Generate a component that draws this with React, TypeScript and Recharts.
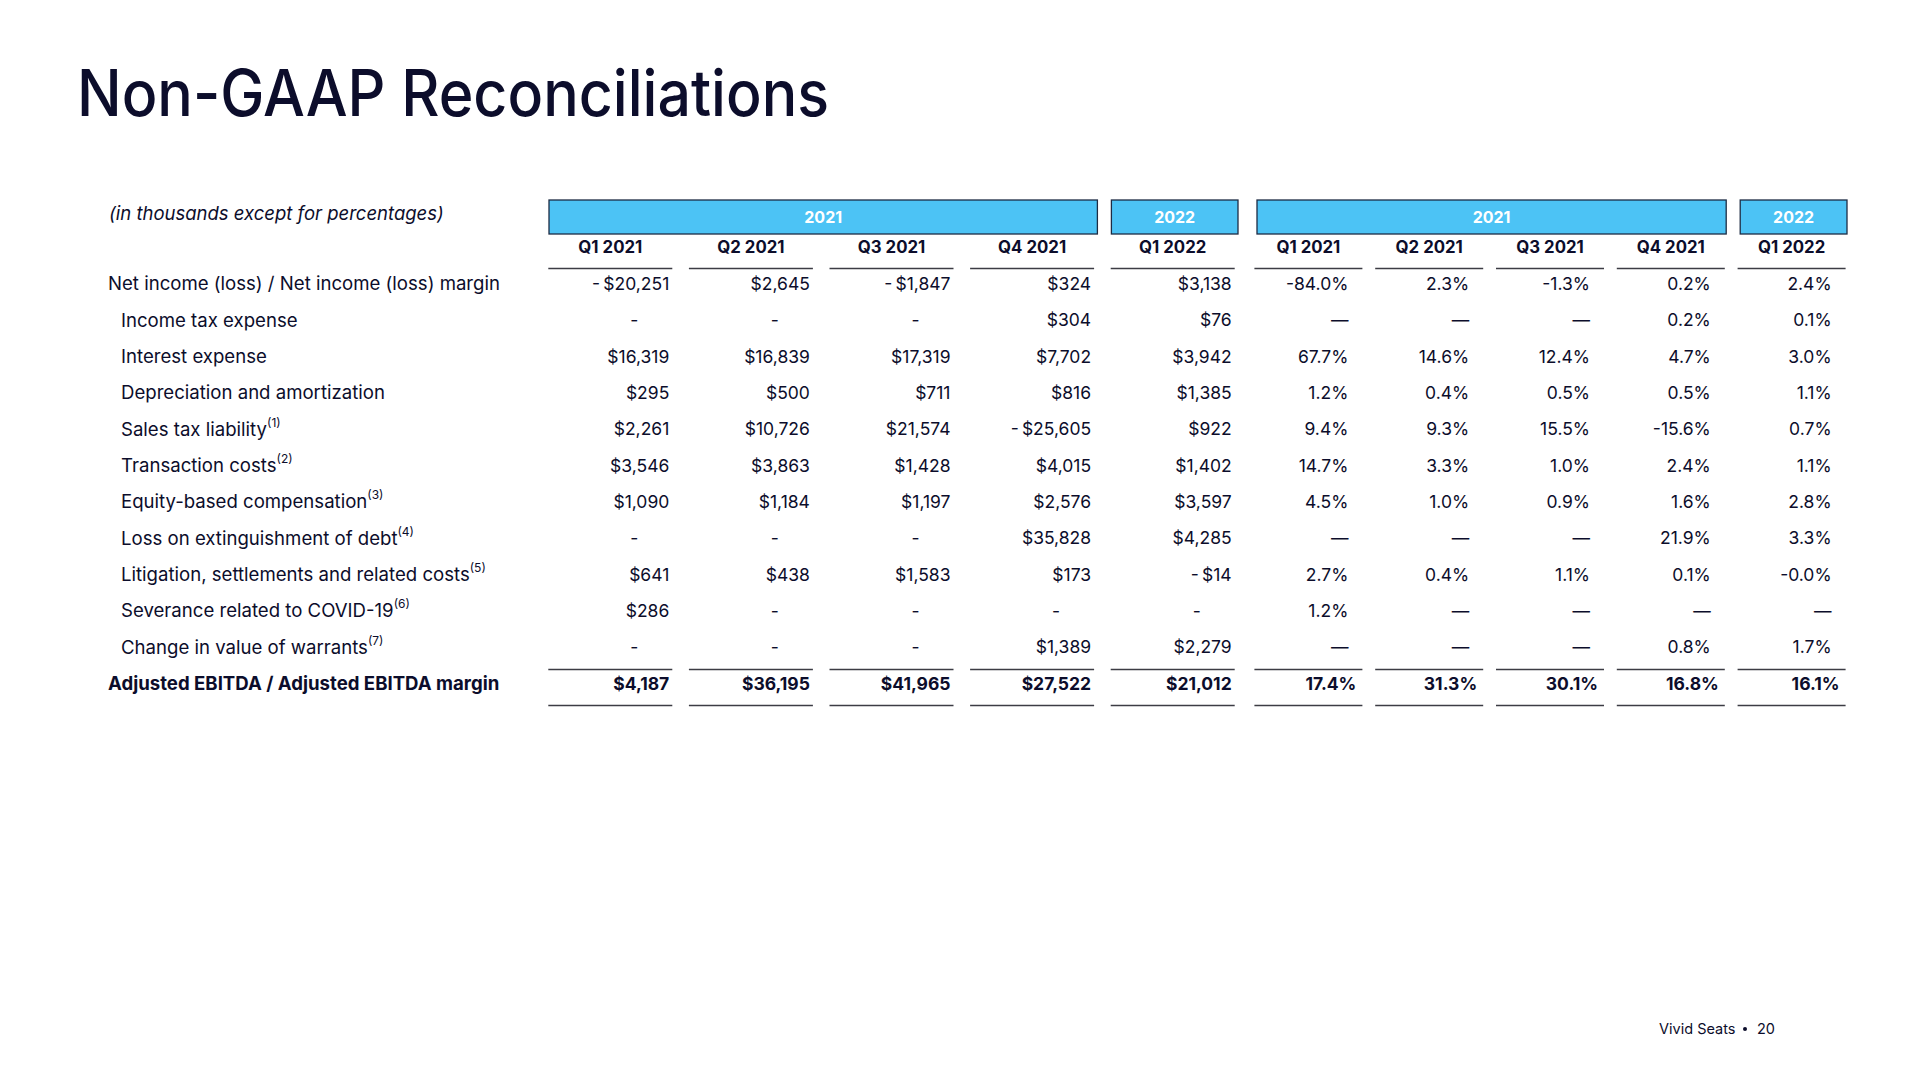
import React from 'react';
import { ComposedChart, XAxis, YAxis, Scatter, ReferenceArea } from 'recharts';

// ---------- data ----------
const TITLE = 'Non-GAAP Reconciliations';
const UNITS_NOTE = '(in thousands except for percentages)';
const FOOTER_BRAND = 'Vivid Seats';
const PAGE_NUMBER = '20';

const QUARTERS = ['Q1 2021', 'Q2 2021', 'Q3 2021', 'Q4 2021', 'Q1 2022'];
const YEAR_GROUP_LABELS = ['2021', '2022'];
const YEAR_GROUP_FIRST = [0, 4];
const YEAR_GROUP_LAST = [3, 4];

const ROW_LABELS = [
  'Net income (loss) / Net income (loss) margin',
  'Income tax expense',
  'Interest expense',
  'Depreciation and amortization',
  'Sales tax liability',
  'Transaction costs',
  'Equity-based compensation',
  'Loss on extinguishment of debt',
  'Litigation, settlements and related costs',
  'Severance related to COVID-19',
  'Change in value of warrants',
  'Adjusted EBITDA / Adjusted EBITDA margin',
];
const ROW_NOTES = ['', '', '', '', '(1)', '(2)', '(3)', '(4)', '(5)', '(6)', '(7)', ''];
const ROW_INDENTED = [false, true, true, true, true, true, true, true, true, true, true, false];

const USD_Q1_2021 = [-20251, null, 16319, 295, 2261, 3546, 1090, null, 641, 286, null, 4187];
const USD_Q2_2021 = [2645, null, 16839, 500, 10726, 3863, 1184, null, 438, null, null, 36195];
const USD_Q3_2021 = [-1847, null, 17319, 711, 21574, 1428, 1197, null, 1583, null, null, 41965];
const USD_Q4_2021 = [324, 304, 7702, 816, -25605, 4015, 2576, 35828, 173, null, 1389, 27522];
const USD_Q1_2022 = [3138, 76, 3942, 1385, 922, 1402, 3597, 4285, -14, null, 2279, 21012];

const PCT_Q1_2021 = [-84.0, null, 67.7, 1.2, 9.4, 14.7, 4.5, null, 2.7, 1.2, null, 17.4];
const PCT_Q2_2021 = [2.3, null, 14.6, 0.4, 9.3, 3.3, 1.0, null, 0.4, null, null, 31.3];
const PCT_Q3_2021 = [-1.3, null, 12.4, 0.5, 15.5, 1.0, 0.9, null, 1.1, null, null, 30.1];
const PCT_Q4_2021 = [0.2, 0.2, 4.7, 0.5, -15.6, 2.4, 1.6, 21.9, 0.1, null, 0.8, 16.8];
const PCT_Q1_2022 = [2.4, 0.1, 3.0, 1.1, 0.7, 1.1, 2.8, 3.3, -0.0, null, 1.7, 16.1];

const USD_COLUMNS = [USD_Q1_2021, USD_Q2_2021, USD_Q3_2021, USD_Q4_2021, USD_Q1_2022];
const PCT_COLUMNS = [PCT_Q1_2021, PCT_Q2_2021, PCT_Q3_2021, PCT_Q4_2021, PCT_Q1_2022];

// ---------- styles ----------
const INK = '#0c0d2b';
const RULE = '#3c3c44';
const BOX_FILL = '#4cc3f5';
const BOX_STROKE = '#1d2c44';
const FONT = 'Inter, "Open Sans", "DejaVu Sans", sans-serif';

// ---------- formatting ----------
function fmtUsd(v: number | null): string {
  if (v === null) return '-';
  const s = Math.abs(v).toLocaleString('en-US');
  return (v < 0 ? '-\u2009$' : '$') + s;
}
function fmtPct(v: number | null): string {
  if (v === null) return '\u2014';
  const neg = v < 0 || Object.is(v, -0);
  return (neg ? '-' : '') + Math.abs(v).toFixed(1) + '%';
}

type Cell = { x: number; y: number; kind: string; text: string };

function buildCells(columns: (number | null)[][], fmt: (v: number | null) => string): Cell[] {
  const out: Cell[] = [];
  columns.forEach((col, c) => {
    out.push({ x: c, y: 1, kind: 'head', text: QUARTERS[c] });
    col.forEach((v, r) => {
      const kind = r === col.length - 1 ? 'total' : v === null ? 'dash' : 'value';
      out.push({ x: c, y: r + 2, kind, text: fmt(v) });
    });
  });
  return out;
}

const usdCells = buildCells(USD_COLUMNS, fmtUsd);
const pctCells = buildCells(PCT_COLUMNS, fmtPct);
const ROW_TICKS = Array.from({ length: ROW_LABELS.length + 2 }, (_, i) => i);

function makeCellShape(half: number, right: number, dashOffset: number | null, totalRight: number) {
  return (props: any) => {
    const { cx, cy, payload } = props;
    if (cx == null || cy == null) return <g />;
    const k = payload.kind;
    if (k === 'head') {
      return (
        <g>
          <text x={cx} y={cy} dy="0.35em" textAnchor="middle" fontFamily={FONT} fontSize={16.8} fontWeight={700} fill={INK}>
            {payload.text}
          </text>
          <line x1={cx - half} x2={cx + half} y1={cy + 21} y2={cy + 21} stroke={RULE} strokeWidth={1.5} />
        </g>
      );
    }
    if (k === 'total') {
      return (
        <g>
          <line x1={cx - half} x2={cx + half} y1={cy - 14} y2={cy - 14} stroke={RULE} strokeWidth={1.5} />
          <text x={cx + totalRight} y={cy} dy="0.35em" textAnchor="end" fontFamily={FONT} fontSize={17.5} fontWeight={700} fill={INK}>
            {payload.text}
          </text>
          <line x1={cx - half} x2={cx + half} y1={cy + 22} y2={cy + 22} stroke={RULE} strokeWidth={1.5} />
        </g>
      );
    }
    if (k === 'dash' && dashOffset !== null) {
      return (
        <text x={cx + dashOffset} y={cy} dy="0.35em" textAnchor="middle" fontFamily={FONT} fontSize={17.5} fill={INK}>
          {payload.text}
        </text>
      );
    }
    return (
      <text x={cx + right} y={cy} dy="0.35em" textAnchor="end" fontFamily={FONT} fontSize={17.5} fill={INK}>
        {payload.text}
      </text>
    );
  };
}

const usdShape = makeCellShape(62, 59, 24, 59);
const pctShape = makeCellShape(54, 40, null, 48);

const RowTick = (props: any) => {
  const { y, payload } = props;
  const i = payload.value as number;
  if (i === 0) {
    return (
      <text x={109} y={y + 2} dy="0.35em" fontFamily={FONT} fontSize={18.5} fontStyle="italic" fill={INK}>
        {UNITS_NOTE}
      </text>
    );
  }
  if (i === 1) return <g />;
  const r = i - 2;
  const bold = r === ROW_LABELS.length - 1;
  return (
    <text x={ROW_INDENTED[r] ? 121 : 108} y={y} dy="0.35em" fontFamily={FONT} fontSize={18.6} fontWeight={bold ? 700 : 400} fill={INK}>
      {ROW_LABELS[r]}
      {ROW_NOTES[r] ? (
        <tspan dy={-9} fontSize={12}>
          {ROW_NOTES[r]}
        </tspan>
      ) : null}
    </text>
  );
};

const yearBoxShape = (label: string) => (p: any) => {
  const { x, y, width } = p;
  const bx = x + 9;
  const bw = width - 14;
  const by = y + 7;
  const bh = 34;
  return (
    <g>
      <rect x={bx} y={by} width={bw} height={bh} fill={BOX_FILL} stroke={BOX_STROKE} strokeWidth={1.3} />
      <text x={bx + bw / 2} y={by + bh / 2} dy="0.35em" textAnchor="middle" fontFamily={FONT} fontSize={16} fontWeight={700} fill="#ffffff">
        {label}
      </text>
    </g>
  );
};

export default function App() {
  return (
    <div style={{ position: 'absolute', left: 0, top: 0, width: 1920, height: 1080, background: '#ffffff' }}>
      <ComposedChart width={1920} height={1080} margin={{ top: 193, right: 0, bottom: 342, left: 0 }}>
        <XAxis xAxisId="usd" dataKey="x" type="number" domain={[-0.5, 4.5]} allowDataOverflow hide padding={{ left: 10, right: 677 }} />
        <XAxis xAxisId="pct" dataKey="x" type="number" domain={[-0.5, 4.5]} allowDataOverflow hide padding={{ left: 718, right: 68 }} />
        <YAxis
          yAxisId="rows"
          dataKey="y"
          type="number"
          domain={[-0.5, ROW_LABELS.length + 2.5]}
          allowDataOverflow
          reversed
          ticks={ROW_TICKS}
          interval={0}
          width={530}
          axisLine={false}
          tickLine={false}
          tick={<RowTick />}
        />
        {YEAR_GROUP_LABELS.map((lab, i) => (
          <ReferenceArea
            key={'u' + i}
            xAxisId="usd"
            yAxisId="rows"
            x1={YEAR_GROUP_FIRST[i] - 0.5}
            x2={YEAR_GROUP_LAST[i] + 0.5}
            y1={-0.5}
            y2={0.5}
            ifOverflow="visible"
            shape={yearBoxShape(lab)}
          />
        ))}
        {YEAR_GROUP_LABELS.map((lab, i) => (
          <ReferenceArea
            key={'p' + i}
            xAxisId="pct"
            yAxisId="rows"
            x1={YEAR_GROUP_FIRST[i] - 0.5}
            x2={YEAR_GROUP_LAST[i] + 0.5}
            y1={-0.5}
            y2={0.5}
            ifOverflow="visible"
            shape={yearBoxShape(lab)}
          />
        ))}
        <Scatter data={usdCells} xAxisId="usd" yAxisId="rows" shape={usdShape} isAnimationActive={false} />
        <Scatter data={pctCells} xAxisId="pct" yAxisId="rows" shape={pctShape} isAnimationActive={false} />
      </ComposedChart>
      <svg width={1920} height={1080} style={{ position: 'absolute', left: 0, top: 0, pointerEvents: 'none' }}>
        <text x={77} y={116} fontFamily={FONT} fontSize={64} fontWeight={500} fill={INK} textLength={752} lengthAdjust="spacingAndGlyphs">
          {TITLE}
        </text>
        <text x={1659} y={1034} fontFamily={FONT} fontSize={14.5} fill={INK}>
          {FOOTER_BRAND}
        </text>
        <circle cx={1745} cy={1029} r={2} fill={INK} />
        <text x={1757} y={1034} fontFamily={FONT} fontSize={14.5} fill={INK}>
          {PAGE_NUMBER}
        </text>
      </svg>
    </div>
  );
}
